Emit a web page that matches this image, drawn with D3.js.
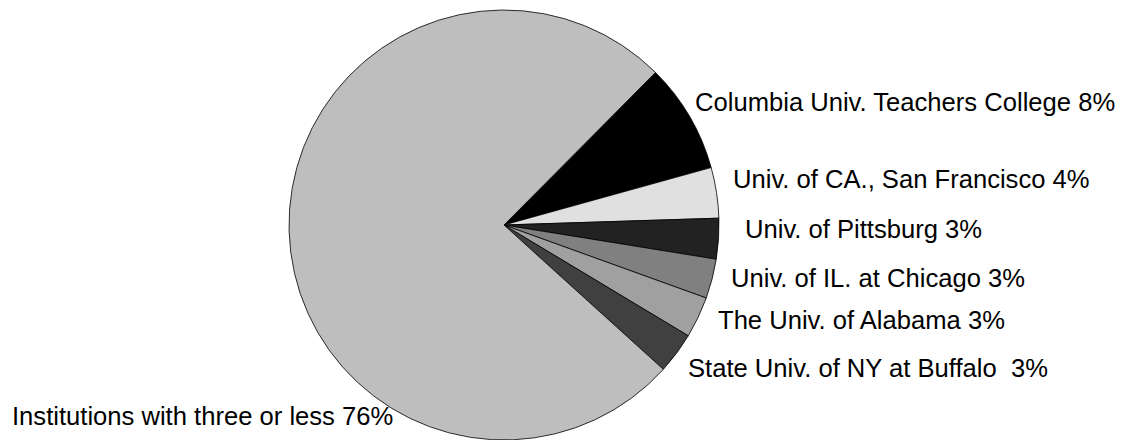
<!DOCTYPE html>
<html>
<head>
<meta charset="utf-8">
<title>Pie chart</title>
<script src="https://cdn.jsdelivr.net/npm/d3@7"></script>
<style>
body { margin: 0; background: #fff; }
svg text { font-family: "Liberation Sans", Arial, sans-serif; font-size: 25.6px; fill: #000; white-space: pre; }
</style>
</head>
<body>
<script>
  // data (share of slices, clockwise from Columbia)
  var names = [
    "Columbia Univ. Teachers College 8%",
    "Univ. of CA., San Francisco 4%",
    "Univ. of Pittsburg 3%",
    "Univ. of IL. at Chicago 3%",
    "The Univ. of Alabama 3%",
    "State Univ. of NY at Buffalo  3%",
    "Institutions with three or less 76%"
  ];
  var shares = [8.25, 3.8, 3.05, 2.97, 3.1, 3.1, 75.73];
  var fills = ["#000000", "#e0e0e0", "#222222", "#808080", "#a0a0a0", "#404040", "#bebebe"];

  var width = 1124, height = 440;
  var cx = 504, cy = 225, radius = 215;
  var start = 44.8 * Math.PI / 180;

  // where each label sits (left x, baseline y)
  var labelPos = [[695, 111], [733, 188], [745, 238], [731, 287], [718, 329], [688, 377], [12, 425]];

  var svg = d3.select("body").append("svg").attr("width", width).attr("height", height);
  var g = svg.append("g").attr("transform", "translate(" + cx + "," + cy + ")");

  var pie = d3.pie()
    .value(function(d, i) { return shares[i]; })
    .sort(null)
    .startAngle(start)
    .endAngle(start + 2 * Math.PI);

  var arc = d3.arc().innerRadius(0).outerRadius(radius);

  g.selectAll(".slice")
    .data(pie(names))
    .enter()
    .append("path")
    .attr("class", "slice")
    .attr("d", arc)
    .attr("fill", function(d) { return fills[d.index]; })
    .attr("stroke", "#000")
    .attr("stroke-width", 0.8)
    .attr("stroke-linejoin", "round");

  svg.selectAll(".lab")
    .data(names)
    .enter()
    .append("text")
    .attr("class", "lab")
    .attr("x", function(d, i) { return labelPos[i][0]; })
    .attr("y", function(d, i) { return labelPos[i][1]; })
    .text(function(d) { return d; });
</script>
</body>
</html>
